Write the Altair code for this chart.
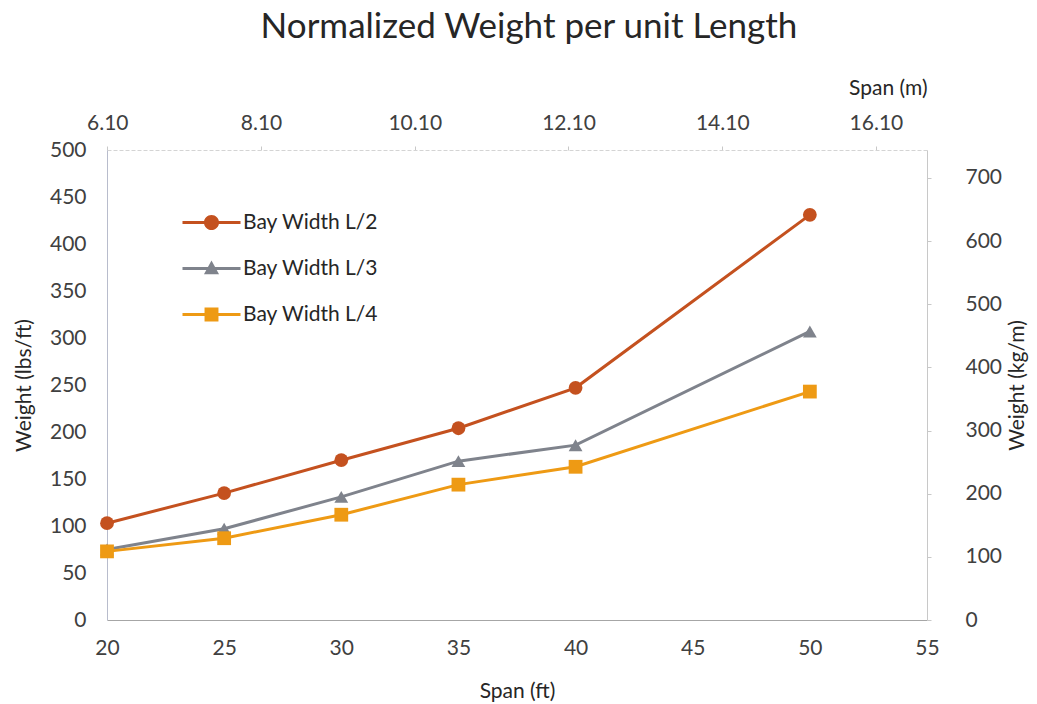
import altair as alt
import pandas as pd

# Span in feet and weight per unit length (lbs/ft) for each bay width
span_ft = [20, 25, 30, 35, 40, 50]
series_names = ["Bay Width L/2", "Bay Width L/3", "Bay Width L/4"]
weight_l2 = [103, 135, 170, 204, 247, 431]
weight_l3 = [75, 97, 131, 169, 186, 307]
weight_l4 = [73, 87, 112, 144, 163, 243]
series_colors = ["#C4511F", "#7F838C", "#EE9A14"]

# Secondary axis tick labels
span_m_ticks = [6.10, 8.10, 10.10, 12.10, 14.10, 16.10]
weight_kg_ticks = [0, 100, 200, 300, 400, 500, 600, 700]
span_ft_ticks = [20, 25, 30, 35, 40, 45, 50, 55]
weight_lb_ticks = list(range(0, 501, 50))

FT_TO_M = 0.3048
LBFT_TO_KGM = 1.48816

rows = []
for name, vals in zip(series_names, [weight_l2, weight_l3, weight_l4]):
    for s, w in zip(span_ft, vals):
        rows.append({"series": name, "span": s, "weight": w,
                     "span_m": s * FT_TO_M, "weight_kg": w * LBFT_TO_KGM})
df = pd.DataFrame(rows)

FONT = "Lato"
x_dom = [20, 55]
y_dom = [0, 500]

color_scale = alt.Scale(domain=series_names, range=series_colors)

x_enc = alt.X("span:Q", scale=alt.Scale(domain=x_dom, nice=False, zero=False),
              axis=alt.Axis(values=span_ft_ticks, title="Span (ft)", orient="bottom",
                            grid=False, tickSize=0, labelPadding=17, titlePadding=22,
                            labelFlush=False, domainColor="#A6A6A6"))
y_enc = alt.Y("weight:Q", scale=alt.Scale(domain=y_dom, nice=False),
              axis=alt.Axis(values=weight_lb_ticks, title="Weight (lbs/ft)", orient="left",
                            grid=False, tickSize=0, labelPadding=21, titlePadding=15,
                            labelFlush=False, domainColor="#B8BCCC"))
x_plain = alt.X("span:Q", scale=alt.Scale(domain=x_dom, nice=False, zero=False), axis=None)
y_plain = alt.Y("weight:Q", scale=alt.Scale(domain=y_dom, nice=False), axis=None)

lines = alt.Chart(df).mark_line(strokeWidth=3).encode(
    x=x_enc, y=y_enc,
    color=alt.Color("series:N", scale=color_scale, legend=None),
)

points = alt.Chart(df).mark_point(filled=True, opacity=1, size=190).encode(
    x=x_plain, y=y_plain,
    color=alt.Color("series:N", scale=color_scale, legend=None),
    shape=alt.Shape("series:N", scale=alt.Scale(domain=series_names,
                                                range=["circle", "triangle-up", "square"]),
                    legend=None),
)

# Legend glyphs: a line segment with the series marker on it
bar = "M-2,-0.1 L2,-0.1 L2,0.1 L-2,0.1 Z "
legend_shapes = [
    bar + "M0.52,0 A0.52,0.52 0 1,1 -0.52,0 A0.52,0.52 0 1,1 0.52,0 Z",
    bar + "M0,-0.55 L0.52,0.4 L-0.52,0.4 Z",
    bar + "M-0.48,-0.48 L0.48,-0.48 L0.48,0.48 L-0.48,0.48 Z",
]
legend_opts = dict(title=None, orient="none", legendX=90, legendY=58,
                   symbolSize=841, labelOffset=17, rowPadding=21,
                   labelFont=FONT, labelFontSize=21, labelColor="#262626",
                   symbolStrokeWidth=0, padding=0)
legend_layer = alt.Chart(df).transform_filter("datum.weight < 0").mark_point(
    filled=True, opacity=1).encode(
    x=x_plain, y=y_plain,
    color=alt.Color("series:N", scale=color_scale, legend=alt.Legend(**legend_opts)),
    shape=alt.Shape("series:N", scale=alt.Scale(domain=series_names, range=legend_shapes),
                    legend=alt.Legend(**legend_opts)),
)

# Top axis in metres
top_axis = alt.Chart(df).mark_point(opacity=0).encode(
    x=alt.X("span_m:Q", scale=alt.Scale(domain=[x_dom[0] * FT_TO_M, x_dom[1] * FT_TO_M],
                                        nice=False, zero=False),
            axis=alt.Axis(values=span_m_ticks, format=".2f", orient="top", title="Span (m)",
                          grid=False, tickSize=4, tickColor="#C8C8C8", labelPadding=13,
                          labelFlush=False, titleAnchor="end", titleAlign="right",
                          titlePadding=14, domainColor="#D4D4D4", domainDash=[4, 2])),
    y=y_plain,
)

# Right axis in kg/m
right_axis = alt.Chart(df).mark_point(opacity=0).encode(
    x=x_plain,
    y=alt.Y("weight_kg:Q", scale=alt.Scale(domain=[0, y_dom[1] * LBFT_TO_KGM], nice=False),
            axis=alt.Axis(values=weight_kg_ticks, orient="right", title="Weight (kg/m)",
                          grid=False, tickSize=4, tickColor="#C8C8C8", labelPadding=34,
                          labelAlign="left", labelAngle=0, labelFlush=False,
                          titleAngle=270, titleX=100, titleY=235,
                          domainColor="#C8C8C8")),
)

chart = alt.layer(lines, points, legend_layer, top_axis, right_axis).resolve_scale(
    x="independent", y="independent", color="independent", shape="independent"
).properties(
    width=820, height=470,
    padding={"left": 107, "top": 150, "right": 110, "bottom": 84},
    autosize=alt.AutoSizeParams(type="none"),
    title=alt.TitleParams("Normalized Weight per unit Length", font=FONT, fontSize=35,
                          fontWeight="normal", color="#262626", anchor="middle", dx=12,
                          offset=32),
).configure_view(stroke=None).configure_axis(
    labelFont=FONT, labelFontSize=21, labelColor="#404040",
    titleFont=FONT, titleFontSize=21, titleFontWeight="normal", titleColor="#262626",
)

chart.save("out.html", embed_options={"renderer": "svg", "actions": False})
